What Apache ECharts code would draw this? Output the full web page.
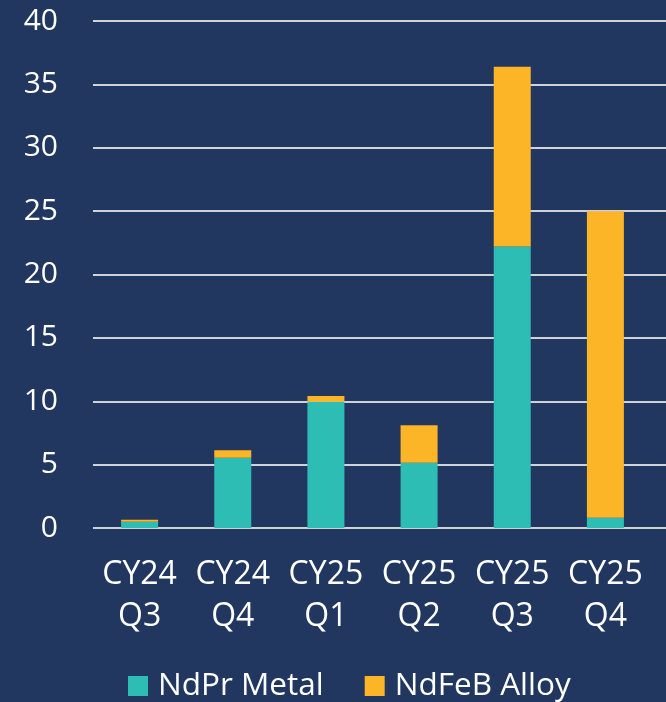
<!DOCTYPE html>
<html>
<head>
<meta charset="utf-8">
<script src="https://cdn.jsdelivr.net/npm/echarts@6/dist/echarts.min.js"></script>
<style>
html,body{margin:0;padding:0;background:#213760;}
#chart{width:666px;height:702px;}
</style>
</head>
<body>
<div id="chart"></div>
<script>
var categories = ['CY24\nQ3', 'CY24\nQ4', 'CY25\nQ1', 'CY25\nQ2', 'CY25\nQ3', 'CY25\nQ4'];
var ndprMetal = [0.5, 5.55, 9.97, 5.15, 22.2, 0.8];
var ndfebAlloy = [0.15, 0.58, 0.45, 2.95, 14.2, 24.2];
var yTicks = [0, 5, 10, 15, 20, 25, 30, 35, 40];

var font = 'Open Sans';
var chart = echarts.init(document.getElementById('chart'));
chart.setOption({
  backgroundColor: '#213760',
  animation: false,
  textStyle: {fontFamily: font},
  legend: {
    top: 665,
    left: 123,
    itemWidth: 20,
    itemHeight: 20,
    itemGap: 41,
    icon: 'rect',
    textStyle: {color: '#ffffff', fontSize: 31.5, fontFamily: font, padding: [0, 0, 0, 5]},
    data: ['NdPr Metal', 'NdFeB Alloy']
  },
  grid: [
    {left: 93, right: 0, top: 21, bottom: 174},
    {left: 93, right: 14, top: 21, bottom: 174}
  ],
  xAxis: [
    {type: 'value', gridIndex: 0, show: false, min: 0, max: 1},
    {
      type: 'category', gridIndex: 1, data: categories,
      axisLine: {show: false}, axisTick: {show: false},
      axisLabel: {color: '#ffffff', fontSize: 32, lineHeight: 42, margin: 26, interval: 0, fontFamily: font}
    }
  ],
  yAxis: [
    {
      type: 'value', gridIndex: 0, min: yTicks[0], max: yTicks[yTicks.length - 1], interval: 5,
      axisLine: {show: false}, axisTick: {show: false},
      axisLabel: {color: '#ffffff', fontSize: 30, margin: 35, fontFamily: font},
      splitLine: {show: true, lineStyle: {color: '#cfd2d8', width: 2}}
    },
    {
      type: 'value', gridIndex: 1, min: 0, max: 40, interval: 5, show: false,
      splitLine: {show: false}
    }
  ],
  series: [
    {
      name: 'NdPr Metal', type: 'bar', stack: 'total', xAxisIndex: 1, yAxisIndex: 1,
      data: ndprMetal, barWidth: 37,
      itemStyle: {color: '#2ebdb5'}
    },
    {
      name: 'NdFeB Alloy', type: 'bar', stack: 'total', xAxisIndex: 1, yAxisIndex: 1,
      data: ndfebAlloy, barWidth: 37,
      itemStyle: {color: '#fbb526'}
    }
  ]
});
</script>
</body>
</html>
